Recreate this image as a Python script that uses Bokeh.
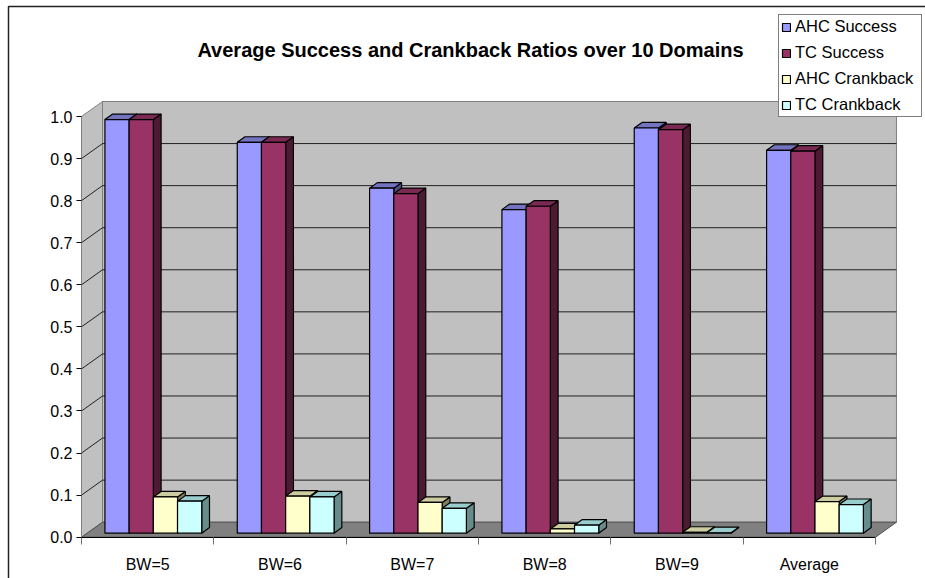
from bokeh.plotting import figure
from bokeh.models import (Range1d, LinearAxis, FixedTicker, Legend, LegendItem,
                          Label, ColumnDataSource)
from bokeh.embed import file_html
from bokeh.resources import INLINE

# ---- data -------------------------------------------------------------
CATEGORIES = ["BW=5", "BW=6", "BW=7", "BW=8", "BW=9", "Average"]
SERIES = ["AHC Success", "TC Success", "AHC Crankback", "TC Crankback"]
AHC_SUCCESS = [0.983, 0.929, 0.820, 0.769, 0.963, 0.910]
TC_SUCCESS = [0.983, 0.929, 0.807, 0.777, 0.959, 0.908]
AHC_CRANKBACK = [0.086, 0.088, 0.073, 0.010, 0.002, 0.075]
TC_CRANKBACK = [0.076, 0.086, 0.059, 0.019, 0.001, 0.068]
Y_TICKS = [0.0, 0.1, 0.2, 0.3, 0.4, 0.5, 0.6, 0.7, 0.8, 0.9, 1.0]
Y_TICK_LABELS = ["0.0", "0.1", "0.2", "0.3", "0.4", "0.5",
                 "0.6", "0.7", "0.8", "0.9", "1.0"]
TITLE = "Average Success and Crankback Ratios over 10 Domains"

VALUES = [AHC_SUCCESS, TC_SUCCESS, AHC_CRANKBACK, TC_CRANKBACK]
FRONT = ["#9999FF", "#993366", "#FFFFCC", "#CCFFFF"]
TOP = ["#7373BF", "#7A2952", "#CCCCA0", "#99CCCC"]
SIDE = ["#4D4D80", "#4D1A33", "#80805F", "#668C8C"]

# ---- canvas / scale ---------------------------------------------------
W, H = 925, 578
X0_PX, X_UNIT = 81.0, 132.33      # screen x of category origin, px per category
Y0_PX, Y_UNIT = 536.7, 420.7      # screen y of value 0, px per 1.0

def xd(px):
    return (px - X0_PX) / X_UNIT

def yd(py):
    return (Y0_PX - py) / Y_UNIT

N = len(CATEGORIES)
FDX = 21 / X_UNIT                 # depth of the floor (oblique offset)
FDY = 15 / Y_UNIT
BAR_W = 24.2 / X_UNIT
BAR_FRONT = 0.27                  # bars' front plane, as a fraction of depth
BAR_DEPTH = 0.37

p = figure(width=W, height=H, x_range=Range1d(xd(0), xd(W)),
           y_range=Range1d(yd(H), yd(0)), output_backend="svg",
           toolbar_location=None, x_axis_type=None, y_axis_type=None,
           min_border=0)
p.outline_line_color = None
p.background_fill_color = "white"
p.border_fill_color = "white"

# outer chart border
p.line([xd(8), xd(8), xd(940)], [yd(590), yd(6), yd(6)],
       line_color="#222222", line_width=1.5)

# walls and floor
p.patch([0, 0, FDX, FDX], [0, 1, 1 + FDY, FDY], fill_color="#C0C0C0",
        line_color="#808080", line_width=1)
p.quad(left=[FDX], right=[N + FDX], bottom=[FDY], top=[1 + FDY],
       fill_color="#C0C0C0", line_color="#808080", line_width=1)
p.patch([0, N, N + FDX, FDX], [0, 0, FDY, FDY], fill_color="#808080",
        line_color="#505050", line_width=1)

# gridlines across the side and back walls
grid_ticks = [t for t in Y_TICKS if 0 < t < 1]
p.multi_line([[0, FDX, N + FDX] for _ in grid_ticks],
             [[t, t + FDY, t + FDY] for t in grid_ticks],
             line_color="#202020", line_width=1)

# ---- 3D bars ------------------------------------------------------------
gap = (1 - len(SERIES) * BAR_W) / 2
bx, by = BAR_FRONT * FDX, BAR_FRONT * FDY
ddx, ddy = BAR_DEPTH * FDX, BAR_DEPTH * FDY

faces = []
for k, vals in enumerate(VALUES):
    left = [i + gap + k * BAR_W + bx for i in range(N)]
    right = [l + BAR_W for l in left]
    bottom = [by] * N
    top = [by + v for v in vals]
    faces.append(dict(left=left, right=right, bottom=bottom, top=top))

for k, f in enumerate(faces):
    xs = [[r, r + ddx, r + ddx, r] for r in f["right"]]
    ys = [[b, b + ddy, t + ddy, t] for b, t in zip(f["bottom"], f["top"])]
    p.patches(xs, ys, fill_color=SIDE[k], line_color="black", line_width=1.2)

for k, f in enumerate(faces):
    xs = [[l, r, r + ddx, l + ddx] for l, r in zip(f["left"], f["right"])]
    ys = [[t, t, t + ddy, t + ddy] for t in f["top"]]
    p.patches(xs, ys, fill_color=TOP[k], line_color="black", line_width=1.2)

fronts = []
for k, f in enumerate(faces):
    src = ColumnDataSource(f)
    fronts.append(p.quad(left="left", right="right", bottom="bottom",
                         top="top", source=src, fill_color=FRONT[k],
                         line_color="black", line_width=1.2))

# ---- axes -------------------------------------------------------------
FONT = "Liberation Sans"
yaxis = LinearAxis(fixed_location=0, bounds=(0, 1),
                   ticker=FixedTicker(ticks=Y_TICKS, minor_ticks=[]),
                   major_label_overrides=dict(zip(Y_TICKS, Y_TICK_LABELS)),
                   axis_line_color="#808080", major_tick_line_color="black",
                   major_tick_in=0, major_tick_out=5, minor_tick_line_color=None,
                   major_label_standoff=4, major_label_text_font=FONT,
                   major_label_text_font_size="16px",
                   major_label_text_color="black")
p.add_layout(yaxis, "left")

centers = [i + 0.5 for i in range(N)]
xaxis = LinearAxis(fixed_location=0, bounds=(0, N),
                   ticker=FixedTicker(ticks=centers,
                                      minor_ticks=list(range(N + 1))),
                   major_label_overrides=dict(zip(centers, CATEGORIES)),
                   axis_line_color="black", major_tick_line_color=None,
                   major_tick_in=0, major_tick_out=0,
                   minor_tick_line_color="#707070", minor_tick_in=0,
                   minor_tick_out=7, major_label_standoff=12,
                   major_label_text_font=FONT,
                   major_label_text_font_size="16px",
                   major_label_text_color="black")
p.add_layout(xaxis, "below")

# ---- title and legend ----------------------------------------------------
p.add_layout(Label(x=xd(470), y=yd(49.5), text=TITLE, text_align="center",
                   text_baseline="alphabetic", text_font=FONT,
                   text_font_style="bold", text_font_size="20px",
                   text_color="black"))

legend = Legend(items=[LegendItem(label=s, renderers=[r])
                       for s, r in zip(SERIES, fronts)],
                location=(778, H - 117), orientation="vertical",
                border_line_color="black", border_line_width=1,
                background_fill_color="white", background_fill_alpha=1,
                label_text_font=FONT, label_text_font_size="16.5px",
                label_text_color="black", glyph_width=10, glyph_height=10,
                label_standoff=4, label_height=19, label_width=124,
                spacing=7, padding=2, margin=0)
p.add_layout(legend)

open("out.html", "w").write(file_html(p, INLINE))
